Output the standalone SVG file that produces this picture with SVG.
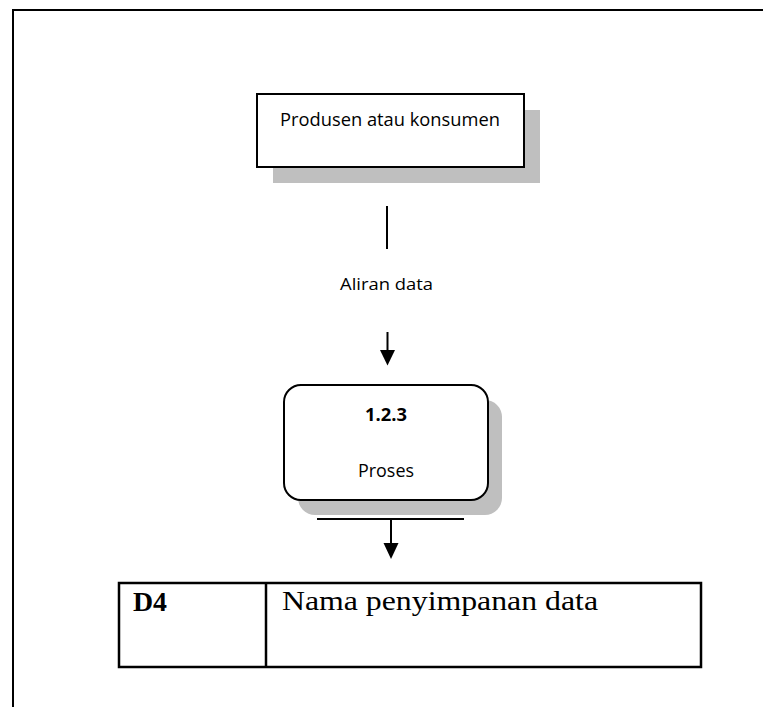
<svg xmlns="http://www.w3.org/2000/svg" width="763" height="707" viewBox="0 0 763 707">
<style>
.sans{font-family:"Open Sans","Noto Sans","Liberation Sans",sans-serif;fill:#000}
.serif{font-family:"Liberation Serif","Times New Roman",serif;fill:#000}
.shadow{fill:#bfbfbf;stroke:none}
.box{fill:#fff;stroke:#000;stroke-width:2}
.line{stroke:#000;stroke-width:2;fill:none}
.head{fill:#000;stroke:none}
</style>
<rect width="763" height="707" fill="#fff"/>
<g id="frame">
<path d="M13 707 V10 H763" fill="none" stroke="#000" stroke-width="2"/>
</g>
<g id="producer">
<rect class="shadow" x="273" y="110" width="267" height="73"/>
<rect class="box" x="257" y="94" width="267" height="73"/>
<text class="sans" x="280" y="126" font-size="18" textLength="220" lengthAdjust="spacingAndGlyphs">Produsen atau konsumen</text>
</g>
<g id="connectors">
<line class="line" x1="387" y1="206" x2="387" y2="249"/>
<text class="sans" x="340" y="290" font-size="16.5" textLength="93" lengthAdjust="spacingAndGlyphs">Aliran data</text>
<line class="line" x1="387.5" y1="332" x2="387.5" y2="352"/>
<polygon class="head" points="380,350 395,350 387.5,365.5"/>
<line class="line" x1="317" y1="519" x2="464" y2="519"/>
<line class="line" x1="391" y1="519" x2="391" y2="545"/>
<polygon class="head" points="383.5,543 398.5,543 391,559"/>
</g>
<g id="process">
<rect class="shadow" x="298" y="400" width="204" height="115" rx="17"/>
<rect class="box" x="284" y="385" width="204" height="115" rx="17"/>
<text class="sans" x="365" y="421" font-size="17" font-weight="bold" textLength="42" lengthAdjust="spacingAndGlyphs">1.2.3</text>
<text class="sans" x="358" y="477" font-size="18" textLength="56" lengthAdjust="spacingAndGlyphs">Proses</text>
</g>
<g id="datastore">
<rect x="119" y="583" width="582" height="84" fill="#fff" stroke="#000" stroke-width="2.5"/>
<line x1="266" y1="583" x2="266" y2="667" stroke="#000" stroke-width="2.5"/>
<text class="serif" x="133" y="611" font-size="28" font-weight="bold" textLength="34" lengthAdjust="spacingAndGlyphs">D4</text>
<text class="serif" x="282" y="610" font-size="28" textLength="316" lengthAdjust="spacingAndGlyphs">Nama penyimpanan data</text>
</g>
</svg>
